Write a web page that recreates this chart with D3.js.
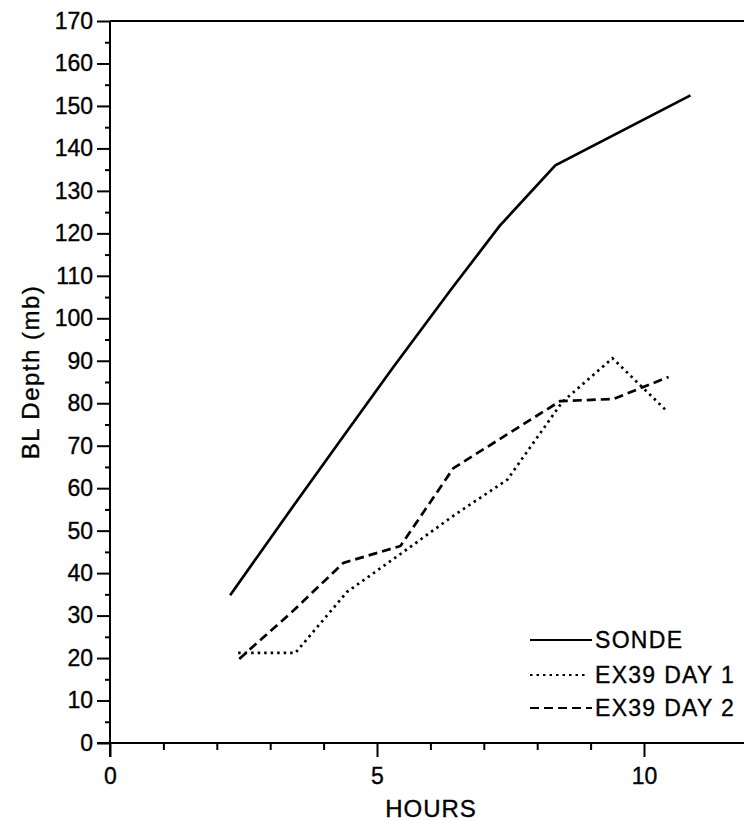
<!DOCTYPE html>
<html>
<head>
<meta charset="utf-8">
<script src="https://cdn.jsdelivr.net/npm/d3@7"></script>
<style>
  body { margin: 0; background: #fff; }
  svg { display: block; font-family: "Liberation Sans", Arial, sans-serif; }
  svg text { fill: #000; stroke: #000; stroke-width: 0.35px; }
  .axis path, .axis line { stroke: #000; stroke-width: 2; }
</style>
</head>
<body>
<div id="chart"></div>
<script>
// DATA //
// hours / BL depth in mb
const sondeHours = [2.25, 3.5, 4.3, 5.3, 6.4, 7.3, 8.34, 10.87]
const sondeDepth = [34.8, 57, 71, 88.4, 107, 121.8, 136, 152.5]

const day1Hours = [2.4, 3.47, 4.44, 5.44, 6.43, 7.44, 8.47, 9.41, 10.44]
const day1Depth = [21.2, 21.2, 35.6, 44.5, 53.5, 62, 80.3, 90.6, 78]

const day2Hours = [2.42, 3.42, 4.37, 5.44, 6.43, 7.43, 8.43, 9.43, 10.46]
const day2Depth = [19.8, 31, 42.4, 46.4, 64.7, 72.6, 80.5, 81, 86.2]

const seriesNames = ["SONDE", "EX39 DAY 1", "EX39 DAY 2"]
const xMajorTicks = [0, 5, 10]
const xMinorTicks = [1, 2, 3, 4, 6, 7, 8, 9]
const yMajorTicks = d3.range(0, 171, 10)
const yMinorTicks = d3.range(5, 170, 10)

// Set dimensions
const width = 744
const height = 821

// Create scales
const xScale = d3.scaleLinear()
    .domain([0, 10])
    .range([110, 644])

const yScale = d3.scaleLinear()
    .domain([0, 170])
    .range([743, 21])

const svg = d3.select("#chart")
    .append("svg")
    .attr("width", width)
    .attr("height", height)

// top frame line
svg.append("line")
    .attr("x1", xScale(0))
    .attr("x2", width)
    .attr("y1", yScale(170))
    .attr("y2", yScale(170))
    .attr("stroke", "#000")
    .attr("stroke-width", 2)

// x axis line runs to the edge of the picture
svg.append("line")
    .attr("x1", xScale(0) - 13)
    .attr("x2", width)
    .attr("y1", yScale(0))
    .attr("y2", yScale(0))
    .attr("stroke", "#000")
    .attr("stroke-width", 2)

// X axis
const xMajor = svg.append("g")
    .attr("class", "axis")
    .attr("transform", `translate(0, ${yScale(0)})`)
    .call(d3.axisBottom(xScale).tickValues(xMajorTicks).tickSize(14).tickPadding(11))
xMajor.select(".domain").remove()
xMajor.selectAll("text").style("font-size", "23px")

const xMinor = svg.append("g")
    .attr("class", "axis")
    .attr("transform", `translate(0, ${yScale(0)})`)
    .call(d3.axisBottom(xScale).tickValues(xMinorTicks).tickSize(7).tickFormat(""))
xMinor.select(".domain").remove()

// Y axis
const yMajor = svg.append("g")
    .attr("class", "axis")
    .attr("transform", `translate(${xScale(0)}, 0)`)
    .call(d3.axisLeft(yScale).tickValues(yMajorTicks).tickSize(13).tickPadding(4))
yMajor.select(".domain").remove()
yMajor.selectAll("text").style("font-size", "23px")

const yMinor = svg.append("g")
    .attr("class", "axis")
    .attr("transform", `translate(${xScale(0)}, 0)`)
    .call(d3.axisLeft(yScale).tickValues(yMinorTicks).tickSize(5).tickFormat(""))
yMinor.select(".domain").remove()

// y axis line (sticks out below the x axis)
svg.append("line")
    .attr("x1", xScale(0))
    .attr("x2", xScale(0))
    .attr("y1", yScale(170))
    .attr("y2", yScale(0) + 14)
    .attr("stroke", "#000")
    .attr("stroke-width", 2)

// Axis labels
svg.append("text")
    .attr("x", 431)
    .attr("y", 817)
    .attr("text-anchor", "middle")
    .style("font-size", "24px")
    .style("letter-spacing", "1px")
    .text("HOURS")

svg.append("text")
    .attr("transform", `translate(39, ${(yScale(0) + yScale(170)) / 2 - 10}) rotate(-90)`)
    .attr("text-anchor", "middle")
    .style("font-size", "24px")
    .style("letter-spacing", "1.5px")
    .text("BL Depth (mb)")

// Lines
const lineGen = d3.line()
    .x(d => xScale(d[0]))
    .y(d => yScale(d[1]))

const series = [
    { name: seriesNames[0], pts: d3.zip(sondeHours, sondeDepth), dash: null },
    { name: seriesNames[1], pts: d3.zip(day1Hours, day1Depth), dash: "2.5,4" },
    { name: seriesNames[2], pts: d3.zip(day2Hours, day2Depth), dash: "9,5" },
]

svg.selectAll(".series")
    .data(series)
    .join("path")
    .attr("class", "series")
    .attr("d", d => lineGen(d.pts))
    .attr("fill", "none")
    .attr("stroke", "#000")
    .attr("stroke-width", 2.7)
    .attr("stroke-dasharray", d => d.dash)

// Legend
const legendY = [640, 675, 708]
const legend = svg.selectAll(".legend")
    .data(series)
    .join("g")
    .attr("class", "legend")
    .attr("transform", (d, i) => `translate(530, ${legendY[i]})`)

legend.append("line")
    .attr("x1", 0)
    .attr("x2", (d, i) => i == 1 ? 57 : 62)
    .attr("stroke", "#000")
    .attr("stroke-width", 2)
    .attr("stroke-dasharray", d => d.dash)

legend.append("text")
    .attr("x", 65)
    .attr("y", 8)
    .style("font-size", "23px")
    .style("letter-spacing", "1.3px")
    .text(d => d.name)
</script>
</body>
</html>
